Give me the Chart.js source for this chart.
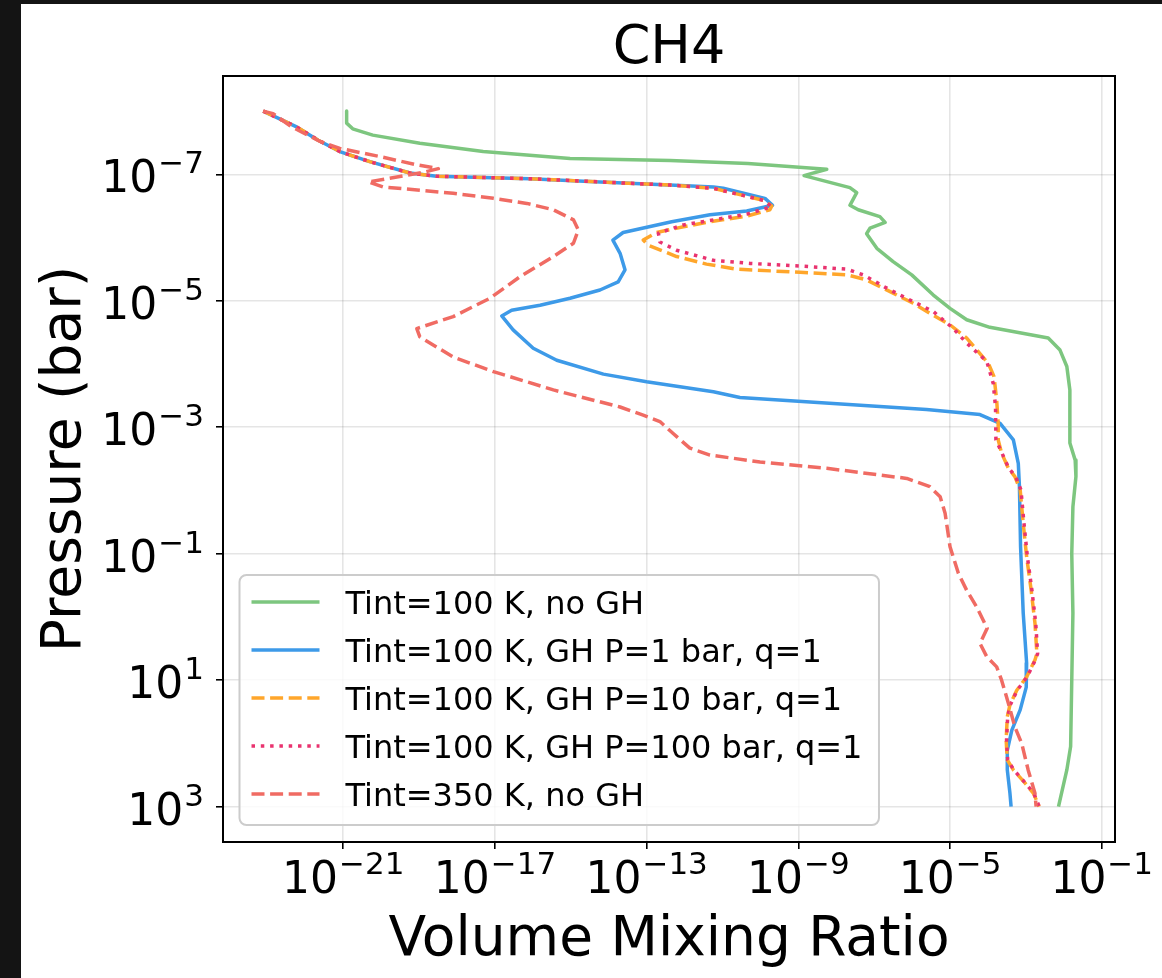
<!DOCTYPE html>
<html>
<head>
<meta charset="utf-8">
<title>CH4</title>
<script src="https://cdn.jsdelivr.net/npm/chart.js@4.4.1/dist/chart.umd.min.js"></script>
<style>
    html, body { margin: 0; padding: 0; background: #141414; }
    #wrap { position: absolute; left: 21px; top: 4px; width: 1141px; height: 974px; background: #fff; }
</style>
</head>
<body>
<div id="wrap"><canvas id="chart" width="1141" height="974"></canvas></div>
<script>
// values are log10 of pressure (bar) and log10 of the volume mixing ratio
const labels = [
    'Tint=100 K, no GH',
    'Tint=100 K, GH P=1 bar, q=1',
    'Tint=100 K, GH P=10 bar, q=1',
    'Tint=100 K, GH P=100 bar, q=1',
    'Tint=350 K, no GH'
];

const noGhLogP = [-8.0, -7.81, -7.72, -7.62, -7.49, -7.36, -7.25, -7.22, -7.17, -7.08, -6.98, -6.79, -6.71, -6.51, -6.44, -6.33, -6.24, -6.15, -6.06, -5.83, -5.62, -5.41, -5.09, -4.88, -4.70, -4.58, -4.41, -4.22, -3.96, -3.59, -2.75, -2.48, -2.22, -1.74, -1.00, -0.06, 1.00, 2.05, 2.42, 3.0];
const noGhLogVmr = [-20.91, -20.91, -20.75, -20.22, -18.98, -17.31, -15.02, -12.38, -10.33, -8.25, -8.85, -7.64, -7.46, -7.64, -7.42, -6.85, -6.71, -7.11, -7.20, -6.93, -6.50, -6.01, -5.44, -5.00, -4.56, -3.95, -2.41, -2.10, -1.92, -1.84, -1.84, -1.70, -1.68, -1.76, -1.79, -1.76, -1.79, -1.82, -1.92, -2.14];

const gh1LogP = [-8.0, -7.75, -7.54, -7.36, -7.20, -7.02, -6.97, -6.93, -6.88, -6.83, -6.80, -6.78, -6.62, -6.51, -6.42, -6.36, -6.25, -6.08, -5.96, -5.75, -5.49, -5.30, -5.17, -5.04, -4.93, -4.85, -4.76, -4.54, -4.25, -4.06, -3.84, -3.72, -3.56, -3.47, -3.41, -3.28, -3.20, -3.06, -2.80, -2.43, -2.06, -1.11, -0.06, 0.73, 1.11, 1.47, 1.79, 2.11, 2.42, 2.79, 3.0];
const gh1LogVmr = [-23.11, -22.23, -21.66, -21.09, -20.30, -19.24, -18.54, -16.08, -14.23, -12.39, -11.24, -10.98, -9.88, -9.68, -10.36, -11.33, -12.34, -13.62, -13.89, -13.70, -13.57, -13.75, -14.23, -15.02, -15.81, -16.56, -16.82, -16.52, -15.99, -15.37, -14.14, -13.00, -11.24, -10.54, -9.00, -5.62, -4.21, -3.68, -3.33, -3.20, -3.17, -3.14, -3.07, -2.98, -2.99, -3.15, -3.37, -3.49, -3.49, -3.42, -3.39];

const gh10LogP = [-8.0, -7.75, -7.54, -7.36, -7.20, -7.02, -6.97, -6.93, -6.88, -6.83, -6.78, -6.59, -6.50, -6.44, -6.34, -6.25, -6.17, -6.08, -5.96, -5.88, -5.70, -5.58, -5.50, -5.45, -5.41, -5.33, -5.12, -4.96, -4.77, -4.62, -4.41, -4.01, -3.80, -3.43, -3.06, -2.80, -2.59, -2.35, -2.22, -2.01, -1.48, -0.95, -0.42, 0.10, 0.58, 0.68, 0.95, 1.16, 1.39, 1.58, 1.95, 2.26, 2.42, 2.63, 2.79, 3.0];
const gh10LogVmr = [-23.11, -22.23, -21.66, -21.09, -20.30, -19.24, -18.54, -16.08, -14.23, -12.39, -11.25, -9.93, -9.70, -9.75, -10.36, -11.33, -12.03, -12.74, -13.09, -12.96, -12.21, -11.42, -10.63, -8.96, -7.72, -7.20, -6.50, -5.97, -5.44, -5.00, -4.56, -3.99, -3.84, -3.77, -3.73, -3.73, -3.64, -3.46, -3.29, -3.15, -3.07, -2.98, -2.86, -2.76, -2.71, -2.76, -2.98, -3.24, -3.42, -3.49, -3.52, -3.49, -3.33, -3.02, -2.80, -2.65];

const gh100LogP = [-8.0, -7.75, -7.54, -7.36, -7.20, -7.02, -6.97, -6.93, -6.88, -6.83, -6.78, -6.59, -6.49, -6.37, -6.27, -6.20, -6.07, -5.93, -5.80, -5.64, -5.59, -5.55, -5.50, -5.41, -5.17, -4.96, -4.83, -4.56, -4.33, -4.04, -3.69, -3.32, -2.80, -2.59, -2.35, -2.22, -2.01, -1.48, -0.95, -0.42, 0.10, 0.58, 0.68, 0.95, 1.16, 1.39, 1.58, 1.95, 2.26, 2.42, 2.63, 2.79, 3.0];
const gh100LogVmr = [-23.11, -22.23, -21.66, -21.09, -20.30, -19.24, -18.54, -16.08, -14.23, -12.39, -11.25, -9.93, -9.70, -10.36, -11.33, -12.03, -12.69, -12.65, -12.21, -11.24, -10.27, -8.96, -7.72, -7.29, -6.58, -5.88, -5.44, -4.91, -4.56, -4.03, -3.86, -3.80, -3.79, -3.63, -3.45, -3.27, -3.13, -3.05, -2.96, -2.84, -2.74, -2.69, -2.75, -2.97, -3.23, -3.41, -3.48, -3.51, -3.48, -3.32, -3.01, -2.79, -2.65];

const hotLogP = [-8.0, -7.96, -7.75, -7.52, -7.41, -7.28, -7.15, -7.09, -7.03, -6.88, -6.80, -6.70, -6.62, -6.54, -6.44, -6.28, -6.12, -5.91, -5.70, -5.38, -5.04, -4.75, -4.56, -4.43, -4.11, -3.88, -3.59, -3.32, -3.19, -3.09, -2.90, -2.67, -2.56, -2.45, -2.35, -2.19, -2.06, -1.90, -1.64, -1.11, -0.69, -0.42, -0.16, 0.18, 0.42, 0.63, 0.79, 1.00, 1.37, 1.74, 2.00, 2.42, 2.79, 3.0];
const hotLogVmr = [-23.11, -22.85, -22.36, -21.61, -21.09, -20.03, -19.06, -18.49, -18.89, -20.34, -19.95, -18.10, -17.04, -16.16, -15.46, -14.93, -14.80, -14.93, -15.46, -16.34, -17.13, -18.10, -19.06, -18.98, -18.10, -17.04, -15.46, -13.70, -13.09, -12.65, -12.30, -11.86, -11.33, -10.01, -8.25, -6.14, -5.53, -5.26, -5.13, -5.00, -4.78, -4.56, -4.30, -4.02, -4.21, -4.03, -3.77, -3.64, -3.46, -3.29, -3.11, -2.94, -2.76, -2.73];

// tick exponents
const xTickExps = [-21, -17, -13, -9, -5, -1];
const yTickExps = [-7, -5, -3, -1, 1, 3];

const FONT = '"DejaVu Sans", sans-serif';

function profile(logP, logVmr) {
    return logP.map((p, i) => ({ x: Math.pow(10, logVmr[i]), y: Math.pow(10, p) }));
}

function series(label, points, color, dash, order) {
    return {
        label: label,
        data: points,
        borderColor: color,
        backgroundColor: color,
        borderWidth: 3.5,
        borderDash: dash,
        borderCapStyle: 'butt',
        borderJoinStyle: 'round',
        showLine: true,
        pointRadius: 0,
        tension: 0,
        order: order
    };
}

const datasets = [
    series(labels[0], profile(noGhLogP, noGhLogVmr), '#7dc67f', [], 5),
    series(labels[1], profile(gh1LogP, gh1LogVmr), '#3d9ae8', [], 4),
    series(labels[2], profile(gh10LogP, gh10LogVmr), '#ffa62b', [13, 5.6], 3),
    series(labels[3], profile(gh100LogP, gh100LogVmr), '#e9336f', [3.5, 5.8], 2),
    series(labels[4], profile(hotLogP, hotLogVmr), '#f06b63', [13, 5.6], 1)
];

// 10^n label like matplotlib mathtext
function drawPower(ctx, exp, x, y, align) {
    const base = '10';
    const sup = exp < 0 ? '\u2212' + Math.abs(exp) : String(exp);
    ctx.font = '44px ' + FONT;
    const w1 = ctx.measureText(base).width;
    ctx.font = '31px ' + FONT;
    const w2 = ctx.measureText(sup).width;
    const total = w1 + w2 + 1;
    let start = align === 'right' ? x - total : x - total / 2;
    ctx.textAlign = 'left';
    ctx.textBaseline = 'alphabetic';
    ctx.font = '44px ' + FONT;
    ctx.fillText(base, start, y);
    ctx.font = '31px ' + FONT;
    ctx.fillText(sup, start + w1 + 1, y - 19);
}

const decor = {
    id: 'decor',
    afterDraw(chart) {
        const ctx = chart.ctx;
        const ca = chart.chartArea;
        const xs = chart.scales.x;
        const ys = chart.scales.y;
        ctx.save();

        // axes frame
        ctx.strokeStyle = '#000';
        ctx.lineWidth = 2;
        ctx.setLineDash([]);
        ctx.strokeRect(ca.left, ca.top, ca.right - ca.left, ca.bottom - ca.top);

        // legend
        ctx.font = '32px ' + FONT;
        let maxW = 0;
        chart.data.datasets.forEach(ds => { maxW = Math.max(maxW, ctx.measureText(ds.label).width); });
        const boxL = ca.left + 16.5;
        const boxB = ca.bottom - 17;
        const boxT = boxB - 250;
        const textX = boxL + 106;
        const boxR = textX + maxW + 16.5;
        const r = 7;
        ctx.beginPath();
        ctx.moveTo(boxL + r, boxT);
        ctx.arcTo(boxR, boxT, boxR, boxB, r);
        ctx.arcTo(boxR, boxB, boxL, boxB, r);
        ctx.arcTo(boxL, boxB, boxL, boxT, r);
        ctx.arcTo(boxL, boxT, boxR, boxT, r);
        ctx.closePath();
        ctx.fillStyle = 'rgba(255,255,255,0.8)';
        ctx.fill();
        ctx.strokeStyle = '#cccccc';
        ctx.lineWidth = 2;
        ctx.stroke();

        chart.data.datasets.forEach((ds, i) => {
            const cy = boxB - 31 - (chart.data.datasets.length - 1 - i) * 48;
            ctx.beginPath();
            ctx.setLineDash(ds.borderDash || []);
            ctx.lineCap = 'butt';
            ctx.strokeStyle = ds.borderColor;
            ctx.lineWidth = ds.borderWidth;
            ctx.moveTo(boxL + 12, cy);
            ctx.lineTo(boxL + 80, cy);
            ctx.stroke();
            ctx.setLineDash([]);
            ctx.fillStyle = '#000';
            ctx.font = '32px ' + FONT;
            ctx.textAlign = 'left';
            ctx.textBaseline = 'alphabetic';
            ctx.fillText(ds.label, textX, cy + 11.7);
        });

        // tick labels
        ctx.fillStyle = '#000';
        xTickExps.forEach(e => drawPower(ctx, e, xs.getPixelForValue(Math.pow(10, e)), 889, 'center'));
        yTickExps.forEach(e => drawPower(ctx, e, 183, ys.getPixelForValue(Math.pow(10, e)) + 18, 'right'));

        // title and axis titles
        const cx = (ca.left + ca.right) / 2;
        ctx.textAlign = 'center';
        ctx.textBaseline = 'alphabetic';
        ctx.font = '54px ' + FONT;
        ctx.fillText('CH4', cx, 59);
        ctx.font = '55px ' + FONT;
        ctx.fillText('Volume Mixing Ratio', cx, 951);
        ctx.translate(59, (ca.top + ca.bottom) / 2);
        ctx.rotate(-Math.PI / 2);
        ctx.fillText('Pressure (bar)', 0, 0);
        ctx.restore();
    }
};

const gridStyle = {
    color: 'rgba(0,0,0,0.1)',
    lineWidth: 1.6,
    drawTicks: true,
    tickLength: 7,
    tickColor: '#000',
    tickWidth: 1.6
};

new Chart(document.getElementById('chart'), {
    type: 'scatter',
    data: { datasets: datasets },
    options: {
        responsive: false,
        animation: false,
        layout: { padding: { left: 0, top: 72, right: 47, bottom: 0 } },
        plugins: {
            legend: { display: false },
            title: { display: false },
            tooltip: { enabled: false }
        },
        scales: {
            x: {
                type: 'logarithmic',
                bounds: 'data',
                min: Math.pow(10, -24.17),
                max: Math.pow(10, -0.65),
                afterBuildTicks: s => { s.ticks = xTickExps.map(e => ({ value: Math.pow(10, e) })); },
                afterFit: s => { s.height = 136; },
                ticks: { display: false },
                grid: gridStyle,
                border: { display: false }
            },
            y: {
                type: 'logarithmic',
                bounds: 'data',
                reverse: true,
                min: Math.pow(10, -8.555),
                max: Math.pow(10, 3.56),
                afterBuildTicks: s => { s.ticks = yTickExps.map(e => ({ value: Math.pow(10, e) })); },
                afterFit: s => { s.width = 202; },
                ticks: { display: false },
                grid: gridStyle,
                border: { display: false }
            }
        }
    },
    plugins: [decor]
});
</script>
</body>
</html>
